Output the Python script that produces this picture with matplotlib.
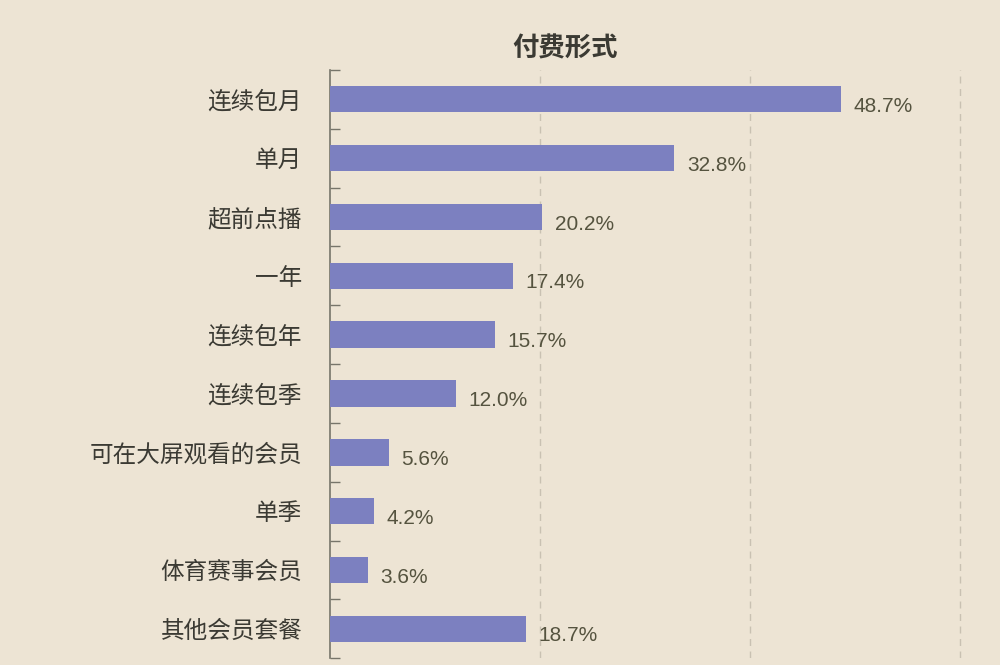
import numpy as np
import matplotlib.pyplot as plt
from matplotlib.ticker import FixedLocator

plt.rcParams['font.family'] = ['Noto Sans CJK SC', 'DejaVu Sans']

# 数据
categories = ["连续包月", "单月", "超前点播", "一年", "连续包年", "连续包季",
              "可在大屏观看的会员", "单季", "体育赛事会员", "其他会员套餐"]
values = [48.7, 32.8, 20.2, 17.4, 15.7, 12.0, 5.6, 4.2, 3.6, 18.7]
value_labels = ["48.7%", "32.8%", "20.2%", "17.4%", "15.7%", "12.0%",
                "5.6%", "4.2%", "3.6%", "18.7%"]
grid_x = [20, 40, 60]

bg = "#ede4d4"
bar_color = "#7c80c0"
text_color = "#3b3a33"
label_color = "#55533f"

fig = plt.figure(figsize=(10, 6.65), dpi=100, facecolor=bg)
ax = fig.add_axes([0.33, 0.01, 0.635, 0.885], facecolor=bg)

y = np.arange(len(categories))
ax.barh(y, values, height=0.45, color=bar_color, zorder=3)

for yi, v, lab in zip(y, values, value_labels):
    ax.text(v + 1.2, yi + 0.12, lab, va="center", ha="left",
            fontsize=15, color=label_color, family="Liberation Sans")

ax.set_ylim(len(categories) - 0.5, -0.5)
ax.set_xlim(0, 60.5)

ax.set_yticks(y)
ax.set_yticklabels(categories, fontsize=17, color=text_color)
ax.tick_params(axis="y", which="major", length=0, pad=20)
ax.yaxis.set_minor_locator(FixedLocator(np.arange(-0.5, len(categories), 1.0)))
ax.tick_params(axis="y", which="minor", direction="in", length=7,
               color="#77756a", width=1)

ax.set_xticks(grid_x)
ax.set_xticklabels([])
ax.tick_params(axis="x", length=0)
ax.grid(axis="x", linestyle=(0, (5, 4)), color="#c9c1b2", linewidth=1, zorder=0)

for side in ["top", "right", "bottom"]:
    ax.spines[side].set_visible(False)
ax.spines["left"].set_color("#77756a")
ax.spines["left"].set_linewidth(1.2)

fig.text(0.565, 0.927, "付费形式", ha="center", va="center",
         fontsize=19, fontweight="bold", color=text_color)

fig.savefig("out.png", facecolor=bg)
